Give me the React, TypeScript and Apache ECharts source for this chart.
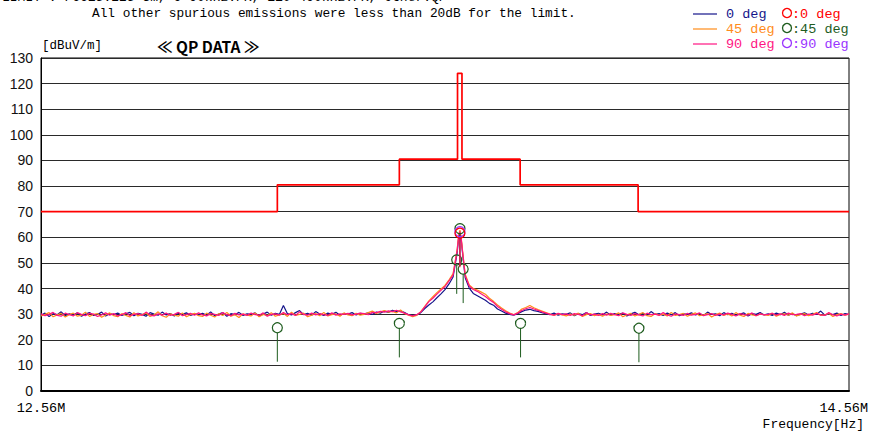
import React, { useEffect, useRef } from "react";
import * as echarts from "echarts";

// Sweep: 12.56 MHz to 14.56 MHz, one reading every 10 kHz
const SWEEP_START_MHZ = 12.56;
const SWEEP_STEP_MHZ = 0.01;

// Measured level [dBuV/m] per sweep point, antenna at 0 deg
const TRACE_0DEG = [
  29.6, 30.4, 29.1, 30.2, 29.8, 30.9, 29.4, 30.1, 29.7, 30.5, 29.2, 30.0, 30.6, 29.5, 29.9, 30.8, 29.3, 30.2, 29.8, 30.4,
  29.5, 30.1, 30.7, 29.4, 30.3, 29.9, 29.2, 30.6, 30.0, 29.6, 30.8, 29.7, 30.2, 29.3, 30.4, 29.9, 30.5, 29.5, 30.1, 29.8,
  30.3, 29.6, 30.9, 29.4, 30.0, 30.6, 29.2, 30.2, 29.8, 30.7, 29.5, 30.1, 29.9, 30.5, 29.3, 30.0, 30.8, 29.6, 30.3, 29.9,
  33.4, 30.2, 29.7, 30.6, 31.4, 29.8, 30.3, 29.6, 31.0, 30.1, 29.5, 30.4, 29.9, 30.7, 29.6, 30.2, 30.0, 30.6, 29.7, 30.3,
  30.1, 30.5, 29.9, 30.8, 30.4, 31.2, 30.7, 31.5, 31.0, 31.3, 30.6, 29.8, 29.4, 29.7, 30.6, 32.2, 33.6, 34.8, 36.4, 37.9,
  39.6, 41.8, 44.5, 53.8, 59.2, 44.2, 40.2, 38.1, 37.2, 36.3, 35.4, 34.2, 33.5, 32.0, 31.2, 30.4, 29.9, 29.6, 30.2, 31.0,
  31.6, 31.9, 31.4, 31.1, 30.6, 30.2, 29.8, 30.4, 29.6, 30.1, 29.9, 30.5, 29.4, 30.2, 29.8, 30.6, 29.5, 30.0, 30.3, 29.7,
  30.8, 29.6, 30.2, 29.9, 30.4, 29.3, 30.1, 30.7, 29.8, 30.3, 29.6, 31.0, 29.9, 30.2, 29.5, 30.4, 29.8, 30.6, 29.4, 30.1,
  29.9, 30.5, 29.7, 30.2, 29.5, 30.8, 29.9, 30.1, 29.4, 30.6, 29.8, 30.3, 29.6, 30.0, 30.5, 29.3, 30.2, 29.9, 30.6, 29.7,
  30.1, 29.5, 30.4, 29.8, 30.7, 29.6, 30.2, 29.4, 30.0, 30.5, 29.7, 30.3, 29.9, 31.2, 29.6, 30.1, 29.8, 30.4, 29.5, 30.2,
  29.9,
];

// Antenna at 45 deg
const TRACE_45DEG = [
  29.3, 29.9, 30.6, 29.0, 29.7, 30.3, 28.9, 29.8, 30.4, 29.2, 29.6, 30.8, 29.1, 29.9, 30.2, 28.8, 29.7, 30.5, 29.4, 29.0,
  30.2, 29.5, 28.9, 30.6, 29.3, 29.8, 30.4, 29.1, 29.7, 30.9, 29.4, 28.8, 30.1, 29.6, 29.2, 30.5, 29.0, 29.8, 30.3, 29.4,
  29.1, 30.4, 29.6, 28.9, 30.2, 29.5, 30.7, 29.2, 29.8, 28.7, 30.1, 29.6, 29.3, 30.5, 29.0, 29.9, 29.4, 30.6, 29.2, 29.7,
  30.3, 29.1, 30.8, 29.5, 29.9, 30.4, 29.0, 29.6, 30.2, 29.4, 30.7, 29.3, 29.8, 30.1, 29.2, 30.5, 29.7, 29.4, 30.3, 29.6,
  29.9, 30.6, 31.2, 30.3, 30.9, 31.4, 30.8, 31.1, 30.5, 31.6, 30.2, 29.6, 29.0, 29.5, 31.0, 33.0, 35.2, 36.8, 38.4, 39.8,
  41.2, 43.4, 45.8, 55.2, 60.0, 45.6, 41.4, 40.0, 39.4, 38.6, 37.8, 36.2, 35.0, 33.6, 32.4, 31.3, 30.4, 29.8, 30.6, 32.0,
  32.6, 33.4, 32.5, 31.8, 31.2, 30.6, 30.0, 29.5, 30.2, 29.7, 29.3, 30.0, 29.6, 30.4, 29.1, 29.8, 30.2, 29.4, 29.9, 29.2,
  30.1, 29.5, 29.8, 30.5, 29.0, 29.7, 30.3, 29.3, 29.9, 30.6, 29.4, 29.1, 30.2, 29.6, 30.0, 29.3, 30.7, 29.5, 29.8, 30.3,
  29.2, 29.9, 30.5, 29.4, 29.7, 30.2, 28.9, 29.8, 30.4, 29.5, 30.1, 29.3, 30.6, 29.6, 29.1, 30.3, 29.7, 29.4, 30.0, 29.8,
  29.5, 30.4, 29.2, 29.9, 30.1, 29.6, 30.5, 29.3, 29.8, 30.2, 29.4, 29.9, 30.6, 29.5, 29.7, 30.3, 29.1, 29.8, 30.2, 29.6,
  30.0,
];

// Antenna at 90 deg
const TRACE_90DEG = [
  30.1, 29.4, 29.9, 30.7, 29.5, 29.2, 30.4, 29.8, 29.3, 30.6, 29.9, 29.4, 30.3, 30.0, 29.1, 29.7, 30.5, 29.6, 30.2, 29.3,
  29.8, 30.6, 29.4, 29.9, 30.2, 29.5, 30.8, 29.7, 29.3, 30.1, 29.6, 30.4, 29.5, 29.9, 30.7, 29.4, 29.8, 30.3, 29.6, 30.5,
  29.7, 29.3, 30.2, 29.9, 29.5, 30.6, 29.8, 29.4, 30.3, 29.7, 30.0, 29.5, 30.4, 29.8, 29.6, 30.5, 29.2, 29.9, 30.1, 29.6,
  30.6, 29.8, 30.2, 29.5, 30.9, 29.9, 29.6, 30.4, 29.7, 30.2, 29.8, 29.5, 30.5, 29.6, 30.1, 29.9, 30.3, 29.7, 30.0, 30.4,
  30.2, 29.8, 30.7, 30.6, 31.1, 30.8, 31.3, 31.0, 31.5, 30.9, 30.4, 29.7, 29.3, 29.8, 30.8, 32.8, 34.9, 36.2, 37.8, 39.3,
  40.8, 43.0, 45.2, 54.8, 59.6, 45.0, 41.0, 39.6, 38.9, 37.9, 36.9, 35.6, 34.6, 33.0, 31.9, 30.9, 30.2, 29.7, 30.4, 31.4,
  32.1, 32.6, 32.0, 31.5, 30.9, 30.4, 29.9, 29.6, 30.3, 29.8, 30.1, 29.5, 30.2, 29.9, 29.4, 30.6, 29.7, 30.0, 29.5, 30.2,
  29.6, 30.3, 29.8, 29.4, 30.5, 29.9, 29.5, 30.2, 29.7, 29.3, 30.4, 29.8, 30.0, 29.5, 30.6, 29.7, 29.2, 30.1, 29.8, 29.5,
  30.3, 29.6, 29.9, 30.5, 29.4, 29.8, 30.2, 29.5, 30.0, 29.7, 30.4, 29.9, 29.3, 30.2, 29.8, 29.6, 30.5, 29.4, 30.1, 29.7,
  29.9, 30.3, 29.6, 30.1, 29.5, 30.4, 29.8, 29.9, 30.2, 29.4, 30.0, 29.6, 30.3, 29.7, 29.5, 30.6, 29.8, 29.3, 30.0, 29.6,
  30.1,
];

// Extra readings around the carrier, between sweep points
const CARRIER_FREQ = [13.594, 13.597, 13.604];
const CARRIER_0DEG = [60.0, 61.6, 53.0];
const CARRIER_45DEG = [61.0, 62.8, 54.0];
const CARRIER_90DEG = [60.6, 62.2, 53.6];

// FCC 15.225 limit mask: band edges [MHz] and level inside each band [dBuV/m]
const LIMIT_EDGES = [12.56, 13.145, 13.447, 13.591, 13.602, 13.746, 14.038, 14.56];
const LIMIT_LEVELS = [70, 80.5, 90.5, 124, 90.5, 80.5, 70];

// QP readings [MHz, dBuV/m]
const QP_0DEG = [[13.597, 61.6]];
const QP_45DEG = [
  [13.145, 24.7],
  [13.447, 26.4],
  [13.589, 51.2],
  [13.597, 63.4],
  [13.605, 47.6],
  [13.747, 26.4],
  [14.04, 24.5],
];
const QP_90DEG = [[13.597, 62.2]];

const X_MIN = 12.56;
const X_MAX = 14.56;
const X_LABELS = ["12.56M", "14.56M"];

const C_0 = "#14148a";
const C_45 = "#ff8c1a";
const C_90 = "#ff1482";
const C_QP0 = "#ff0000";
const C_QP45 = "#1e5c1e";
const C_QP90 = "#9933ff";

const MONO = "'Liberation Mono', 'DejaVu Sans Mono', monospace";
const SANS = "'Liberation Sans', Arial, sans-serif";

function buildTrace(levels: number[], carrier: number[]): number[][] {
  const pts = levels.map((v, i) => [
    Math.round((SWEEP_START_MHZ + i * SWEEP_STEP_MHZ) * 1000) / 1000,
    v,
  ]);
  CARRIER_FREQ.forEach((f, k) => pts.push([f, carrier[k]]));
  pts.sort((a, b) => a[0] - b[0]);
  return pts;
}

function buildLimit(): number[][] {
  const pts: number[][] = [];
  LIMIT_LEVELS.forEach((lv, k) => {
    pts.push([LIMIT_EDGES[k], lv], [LIMIT_EDGES[k + 1], lv]);
  });
  return pts;
}

function markerSeries(name: string, data: number[][], color: string) {
  return {
    name,
    type: "custom",
    data,
    encode: { x: 0, y: 1 },
    z: 5,
    renderItem: (_params: any, api: any) => {
      const p = api.coord([api.value(0), api.value(1)]);
      return {
        type: "group",
        children: [
          {
            type: "line",
            shape: { x1: p[0], y1: p[1] + 5, x2: p[0], y2: p[1] + 34 },
            style: { stroke: color, lineWidth: 1 },
          },
          {
            type: "circle",
            shape: { cx: p[0], cy: p[1], r: 5 },
            style: { fill: "none", stroke: color, lineWidth: 1.2 },
          },
        ],
      };
    },
  };
}

function lineSeries(name: string, data: number[][], color: string, width = 1.2, z = 2) {
  return {
    name,
    type: "line",
    data,
    showSymbol: false,
    symbol: "none",
    z,
    lineStyle: { color, width },
  };
}

function txt(x: number, y: number, text: string, opts: any = {}) {
  return {
    type: "text",
    x,
    y,
    style: {
      text,
      fill: opts.fill || "#000",
      font: opts.font || `13px ${MONO}`,
      textAlign: opts.align || "left",
      textVerticalAlign: opts.vAlign || "middle",
    },
  };
}

export default function App() {
  const ref = useRef<HTMLDivElement>(null);

  useEffect(() => {
    if (!ref.current) return;
    const chart = echarts.init(ref.current, null, { renderer: "svg" });

    const legendRows = [
      { label: "0 deg", color: C_0, qp: ":0 deg", qpColor: C_QP0, y: 14 },
      { label: "45 deg", color: C_45, qp: ":45 deg", qpColor: C_QP45, y: 29 },
      { label: "90 deg", color: C_90, qp: ":90 deg", qpColor: C_QP90, y: 44 },
    ];

    const graphics: any[] = [
      txt(2, 4, "LIMIT : FCC15.225 3m, 9-90kHz:PK, 110-490kHz:PK, Other:QP", {
        vAlign: "bottom",
      }),
      txt(92, 13, "All other spurious emissions were less than 20dB for the limit.", {
        font: `12.8px ${MONO}`,
      }),
      txt(42, 46, "[dBuV/m]", { font: `12.5px ${MONO}` }),
      txt(157, 46, "≪ QP DATA ≫", {
        font: `bold 15.5px 'Noto Sans CJK JP', ${SANS}`,
      }),
      txt(41, 408, X_LABELS[0], { align: "center", font: `13.5px ${MONO}` }),
      txt(868, 408, X_LABELS[1], { align: "right", font: `13.5px ${MONO}` }),
      txt(864, 424, "Frequency[Hz]", { align: "right", font: `13px ${MONO}` }),
    ];
    legendRows.forEach((r) => {
      graphics.push({
        type: "line",
        shape: { x1: 693, y1: r.y, x2: 717, y2: r.y },
        style: { stroke: r.color, lineWidth: 1.2 },
      });
      graphics.push(txt(726, r.y, r.label, { fill: r.color, font: `13.5px ${MONO}` }));
      graphics.push({
        type: "circle",
        shape: { cx: 787, cy: r.y - 1, r: 4.5 },
        style: { fill: "none", stroke: r.qpColor, lineWidth: 1.3 },
      });
      graphics.push(txt(792, r.y, r.qp, { fill: r.qpColor, font: `13.5px ${MONO}` }));
    });

    chart.setOption({
      animation: false,
      backgroundColor: "#fff",
      grid: {
        left: 41,
        top: 58,
        right: 25,
        bottom: 43,
        show: true,
        borderColor: "#000",
        borderWidth: 1,
        backgroundColor: "transparent",
      },
      xAxis: {
        type: "value",
        min: X_MIN,
        max: X_MAX,
        axisLabel: { show: false },
        axisTick: { show: false },
        splitLine: { show: false },
        axisLine: { show: true, onZero: false, lineStyle: { color: "#000", width: 2 } },
      },
      yAxis: {
        type: "value",
        min: 0,
        max: 130,
        interval: 10,
        axisTick: { show: false },
        axisLine: { show: true, lineStyle: { color: "#000", width: 1 } },
        axisLabel: {
          color: "#111",
          fontSize: 14,
          fontFamily: SANS,
          margin: 8,
        },
        splitLine: { show: true, lineStyle: { color: "#2a2a2a", width: 1.2 } },
      },
      series: [
        lineSeries("0 deg", buildTrace(TRACE_0DEG, CARRIER_0DEG), C_0),
        lineSeries("45 deg", buildTrace(TRACE_45DEG, CARRIER_45DEG), C_45),
        lineSeries("90 deg", buildTrace(TRACE_90DEG, CARRIER_90DEG), C_90),
        lineSeries("Limit", buildLimit(), "#ff0000", 1.7, 3),
        markerSeries("QP 45 deg", QP_45DEG, C_QP45),
        markerSeries("QP 90 deg", QP_90DEG, C_QP90),
        markerSeries("QP 0 deg", QP_0DEG, C_QP0),
      ],
      graphic: graphics,
    });

    return () => chart.dispose();
  }, []);

  return <div ref={ref} style={{ width: 874, height: 434, position: "absolute", left: 0, top: 0 }} />;
}
